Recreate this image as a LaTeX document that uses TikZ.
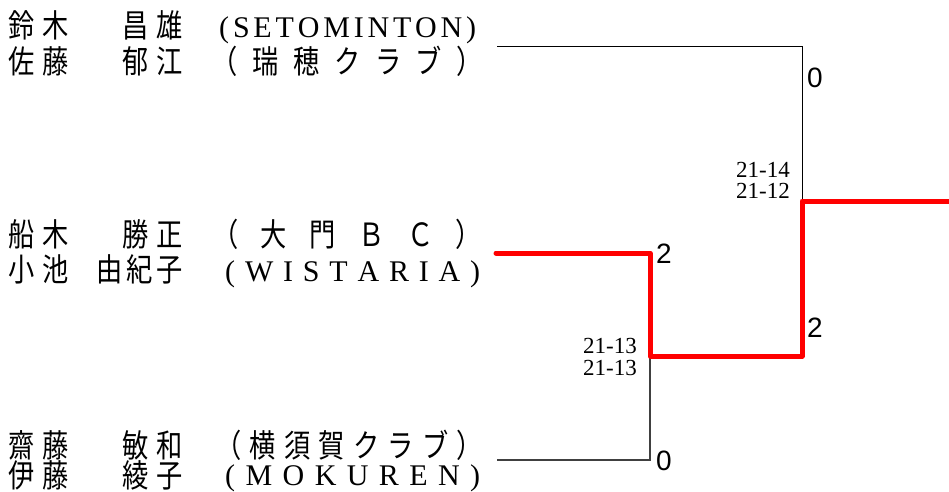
\documentclass[tikz,border=0pt]{standalone}
\usepackage{fontspec}
\newfontfamily\cjkf[FakeStretch=0.82]{Noto Sans CJK JP}
\newfontfamily\latf{Liberation Serif}
\newfontfamily\sansf{Liberation Sans}
\tikzset{
  namestyle/.style={font=\cjkf\fontsize{32}{35}\selectfont, inner sep=0pt, anchor=base west},
  clubcjk/.style={font=\cjkf\fontsize{32}{35}\selectfont, inner sep=0pt, anchor=base west},
  clublat/.style={font=\latf\fontsize{30}{33}\selectfont, inner sep=0pt, anchor=base west},
  scorestyle/.style={font=\latf\fontsize{23}{25}\selectfont, inner sep=0pt, anchor=base east},
  winstyle/.style={font=\sansf\fontsize{28}{31}\selectfont, inner sep=0pt, anchor=base west},
  plainline/.style={draw=black, line width=1pt},
  greyline/.style={draw=black!75, line width=1.1pt},
  winline/.style={draw=red, line width=5pt, line join=round, line cap=round}
}
\begin{document}
\begin{tikzpicture}[x=1pt,y=1pt]
\useasboundingbox (0,0) rectangle (949,-491);
% player names
\node[namestyle] (n1) at (8,-37) {\makebox[61pt][s]{鈴\hfill 木}\hspace{53pt}\makebox[61pt][s]{昌\hfill 雄}};
\node[namestyle] (n2) at (8,-73) {\makebox[61pt][s]{佐\hfill 藤}\hspace{53pt}\makebox[61pt][s]{郁\hfill 江}};
\node[namestyle] (n3) at (8,-246) {\makebox[61pt][s]{船\hfill 木}\hspace{53pt}\makebox[61pt][s]{勝\hfill 正}};
\node[namestyle] (n4) at (8,-281) {\makebox[61pt][s]{小\hfill 池}\hspace{27pt}\makebox[87pt][s]{由\hfill 紀\hfill 子}};
\node[namestyle] (n5) at (8,-457) {\makebox[61pt][s]{齋\hfill 藤}\hspace{53pt}\makebox[61pt][s]{敏\hfill 和}};
\node[namestyle] (n6) at (8,-487) {\makebox[61pt][s]{伊\hfill 藤}\hspace{53pt}\makebox[61pt][s]{綾\hfill 子}};
% clubs
\node[clublat] (c1) at (219,-37) {\makebox[257pt][s]{(\hfill S\hfill E\hfill T\hfill O\hfill M\hfill I\hfill N\hfill T\hfill O\hfill N\hfill )}};
\node[clubcjk] (c2) at (211,-73) {\makebox[272pt][s]{（\hfill 瑞\hfill 穂\hfill ク\hfill ラ\hfill ブ\hfill ）}};
\node[clubcjk] (c3) at (212,-246) {\makebox[270pt][s]{（\hfill 大\hfill 門\hfill Ｂ\hfill Ｃ\hfill ）}};
\node[clublat] (c4) at (225,-281) {\makebox[255pt][s]{(\hfill W\hfill I\hfill S\hfill T\hfill A\hfill R\hfill I\hfill A\hfill )}};
\node[clubcjk] (c5) at (215,-457) {\makebox[268pt][s]{（\hfill 横\hfill 須\hfill 賀\hfill ク\hfill ラ\hfill ブ\hfill ）}};
\node[clublat] (c6) at (225,-485) {\makebox[255pt][s]{(\hfill M\hfill O\hfill K\hfill U\hfill R\hfill E\hfill N\hfill )}};
% bracket geometry
\coordinate (t0) at (497,-46);
\coordinate (t1) at (802,-46);
\coordinate (j2) at (802,-201);
\coordinate (r0) at (496,-253);
\coordinate (r1) at (650,-253);
\coordinate (j1) at (650,-356);
\coordinate (r3) at (802,-356);
\coordinate (r5) at (949,-201);
\coordinate (b0) at (497,-460);
\coordinate (b1) at (650,-460);
\draw[plainline] (t0) -- (t1) -- (j2);
\draw[greyline] (b0) -- (b1) -- (j1);
\draw[winline] (r0) -- (r1) -- (j1) -- (r3) -- (j2) -- (r5);
% scores
\node[scorestyle] (s1) at (790,-177) {21-14};
\node[scorestyle] (s2) at (790,-198) {21-12};
\node[scorestyle] (s3) at (637,-353) {21-13};
\node[scorestyle] (s4) at (637,-375) {21-13};
% games won
\node[winstyle] (w1) at (807,-87) {0};
\node[winstyle] (w2) at (656,-263) {2};
\node[winstyle] (w3) at (807,-337) {2};
\node[winstyle] (w4) at (656,-470) {0};
\end{tikzpicture}
\end{document}
